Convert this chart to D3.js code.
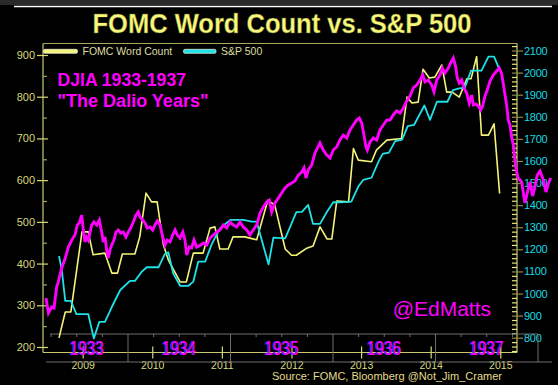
<!DOCTYPE html>
<html><head><meta charset="utf-8">
<script src="https://cdn.jsdelivr.net/npm/d3@7"></script>
<style>html,body{margin:0;padding:0;background:#000;} svg{display:block}</style>
</head><body>
<svg id="c" width="558" height="385"></svg>
<script>
// ---------- DATA ----------
const fomcDates = [2008.66,2008.75,2008.83,2008.99,2009.08,2009.15,2009.32,2009.42,2009.50,2009.57,2009.75,2009.82,2009.91,2009.99,2010.07,2010.16,2010.23,2010.40,2010.49,2010.59,2010.73,2010.83,2010.90,2010.97,2011.09,2011.16,2011.33,2011.50,2011.66,2011.76,2011.91,2012.00,2012.07,2012.22,2012.31,2012.41,2012.51,2012.58,2012.65,2012.82,2012.89,2012.96,2013.15,2013.22,2013.37,2013.58,2013.66,2013.73,2013.82,2013.89,2013.98,2014.06,2014.16,2014.23,2014.31,2014.41,2014.52,2014.58,2014.66,2014.73,2014.83,2014.91,2014.99];
const fomcValues = [222,284,284,476,476,421,425,377,377,423,423,464,569,548,548,445,409,356,356,425,425,485,488,435,435,464,464,457,552,540,435,420,420,437,442,488,459,459,550,548,676,648,644,672,696,700,799,785,787,866,845,847,876,811,811,799,843,843,896,708,708,735,568];

const spxDates = [2008.66,2008.70,2008.75,2008.83,2008.91,2009.08,2009.16,2009.24,2009.32,2009.42,2009.54,2009.68,2009.75,2009.85,2009.92,2010.09,2010.18,2010.23,2010.30,2010.40,2010.52,2010.59,2010.66,2010.76,2010.85,2010.97,2011.12,2011.31,2011.43,2011.50,2011.67,2011.74,2011.91,2012.07,2012.15,2012.24,2012.31,2012.41,2012.51,2012.60,2012.70,2012.86,2012.96,2013.03,2013.15,2013.25,2013.31,2013.40,2013.49,2013.59,2013.67,2013.76,2013.91,2013.99,2014.09,2014.24,2014.32,2014.41,2014.49,2014.58,2014.73,2014.83,2014.91,2014.98];
const spxValues = [1170,1106,967,967,907,907,797,872,872,940,1016,1057,1057,1099,1119,1119,1178,1187,1092,1035,1035,1054,1144,1144,1220,1295,1333,1333,1325,1325,1132,1253,1250,1368,1370,1401,1315,1315,1370,1413,1413,1416,1484,1514,1524,1597,1632,1638,1690,1697,1758,1763,1851,1786,1868,1868,1921,1929,1932,2009,2009,2072,2072,2020];

const djiaDates = [1933.200,1933.224,1933.256,1933.278,1933.304,1933.320,1933.353,1933.385,1933.418,1933.451,1933.483,1933.505,1933.525,1933.548,1933.564,1933.580,1933.597,1933.613,1933.629,1933.646,1933.668,1933.695,1933.720,1933.743,1933.759,1933.776,1933.792,1933.808,1933.824,1933.841,1933.863,1933.883,1933.905,1933.929,1933.954,1933.980,
1934.003,1934.026,1934.052,1934.078,1934.100,1934.117,1934.143,1934.166,1934.188,1934.215,1934.241,1934.263,1934.286,1934.312,1934.339,1934.361,1934.383,1934.410,1934.436,1934.459,1934.481,1934.507,1934.534,1934.556,1934.573,1934.598,1934.621,1934.644,1934.670,1934.696,1934.735,1934.768,1934.800,1934.832,1934.865,1934.898,1934.930,1934.963,1934.995,
1935.027,1935.060,1935.093,1935.125,1935.158,1935.190,1935.222,1935.256,1935.288,1935.320,1935.353,1935.378,1935.402,1935.434,1935.466,1935.499,1935.532,1935.564,1935.597,1935.629,1935.661,1935.695,1935.717,1935.737,1935.759,1935.792,1935.824,1935.873,1935.905,1935.939,1935.971,
1936.003,1936.036,1936.068,1936.100,1936.134,1936.166,1936.198,1936.231,1936.257,1936.280,1936.302,1936.322,1936.335,1936.361,1936.393,1936.426,1936.458,1936.491,1936.524,1936.556,1936.588,1936.621,1936.654,1936.686,1936.719,1936.751,1936.783,1936.817,1936.849,1936.875,1936.898,1936.930,1936.963,1936.985,
1937.012,1937.044,1937.066,1937.093,1937.125,1937.148,1937.174,1937.197,1937.213,1937.232,1937.256,1937.278,1937.304,1937.330,1937.353,1937.369,1937.395,1937.418,1937.441,1937.460,1937.483,1937.505,1937.532,1937.564,1937.597,1937.622,1937.646,1937.668,1937.695,1937.710,1937.727,1937.743,1937.759,1937.775,1937.792,1937.807,1937.841,1937.857,1937.873,1937.895,1937.922,1937.948,1937.971,1937.993,
1938.020,1938.052,1938.078,1938.100,1938.124];
const djiaValues = [62.6,54.4,57.7,57.1,68.6,71.4,79.0,83.9,90.5,94.3,97.1,102.6,103.7,108.0,99.8,93.3,96.0,94.3,98.2,102.6,104.2,102.6,105.3,98.7,93.3,96.0,88.9,84.5,88.9,91.6,94.3,98.7,99.8,98.2,98.7,96.0,
98.7,100.9,104.2,108.0,109.7,106.9,105.3,103.7,100.9,101.5,99.8,102.6,104.8,102.6,96.0,91.6,94.3,93.3,97.1,99.8,97.1,95.4,98.7,94.3,86.1,90.5,90.0,94.3,90.5,91.1,92.7,91.6,95.4,97.1,98.7,99.8,102.6,100.9,104.2,
102.6,101.5,104.2,101.5,99.8,97.1,99.8,102.6,109.1,112.4,115.2,116.2,109.7,114.6,117.3,120.1,122.8,124.5,125.6,126.7,129.9,131.6,133.8,128.3,132.7,135.4,142.0,147.5,143.6,140.9,139.2,
143.6,145.3,149.1,151.8,150.2,154.6,157.3,160.0,161.1,158.4,151.8,145.3,143.6,148.0,150.2,149.1,154.6,157.3,160.0,160.0,162.8,165.0,163.9,166.6,170.4,173.2,177.6,179.2,181.9,184.7,180.9,181.9,179.2,175.4,
181.9,184.7,188.5,185.8,188.5,191.3,194.0,189.1,183.0,180.3,181.9,177.6,174.8,169.3,173.7,168.3,168.8,167.7,165.5,167.7,173.2,176.5,181.4,184.7,186.9,188.5,185.2,177.6,167.7,160.0,157.3,150.7,146.4,138.1,131.6,128.3,126.1,120.1,114.6,120.1,126.1,118.4,123.9,129.9,
132.1,127.2,120.6,125.0,128.3];

const leftTicks = [200,300,400,500,600,700,800,900];
const leftMinor = [250,350,450,550,650,750,850];
const rightTicks = [800,900,1000,1100,1200,1300,1400,1500,1600,1700,1800,1900,2000,2100];
const rightMinor = d3.range(740, 2140, 20).filter(v => v % 100 !== 0);
const yearTicks = [2009,2010,2011,2012,2013,2014,2015];
const djiaYears = [1933,1934,1935,1936,1937];
const djiaBounds = [1934,1935,1936,1937,1938];

// ---------- LAYOUT ----------
const W = 558, H = 385;
const L = 43, R = 517, T = 43.5, B = 352.5;
const FONT = "Liberation Sans, Arial, Helvetica, sans-serif";

const x = d3.scaleLinear().domain([2008.43, 2015.24]).range([L, R]);
const yL = d3.scaleLinear().domain([200, 900]).range([347, 55]);
const yR = d3.scaleLinear().domain([800, 2100]).range([337.7, 50.5]);
const djX = d3.scaleLinear().domain([1933, 1938]).range([25.5, 538]);
const djY = d3.scaleLinear().domain([50, 200]).range([321, 47.04]);

const svg = d3.select("#c");
svg.append("rect").attr("width", W).attr("height", H).attr("fill", "#000");
svg.append("rect").attr("width", W).attr("height", 5).attr("fill", "#2a2a2a");
svg.append("line").attr("x1", 14).attr("x2", 552).attr("y1", 6.5).attr("y2", 6.5)
  .attr("stroke", "#fff").attr("stroke-width", 1.5);

// title
svg.append("text").attr("x", 282).attr("y", 33).attr("text-anchor", "middle")
  .attr("font-family", FONT).attr("font-weight", "bold").attr("font-size", 27)
  .attr("fill", "#f8f87c").attr("stroke", "#6a6a20").attr("stroke-width", 0.4)
  .attr("textLength", 379).attr("lengthAdjust", "spacingAndGlyphs")
  .text("FOMC Word Count vs. S&P 500");

// frame
const frameCol = "#c8c86e";
svg.append("line").attr("x1", L).attr("x2", R).attr("y1", T).attr("y2", T).attr("stroke", "#a8a85c").attr("stroke-width", 1);
svg.append("line").attr("x1", L).attr("x2", R).attr("y1", B).attr("y2", B).attr("stroke", frameCol).attr("stroke-width", 1.2);
svg.append("line").attr("x1", L).attr("x2", L).attr("y1", T).attr("y2", B).attr("stroke", frameCol).attr("stroke-width", 1.2);
svg.append("line").attr("x1", R).attr("x2", R).attr("y1", T).attr("y2", B).attr("stroke", frameCol).attr("stroke-width", 1.2);

function styleAxis(g, tickCol, textCol, fs) {
  g.select(".domain").remove();
  g.selectAll(".tick line").attr("stroke", tickCol).attr("stroke-width", 1.2);
  g.selectAll(".tick text").attr("fill", textCol).attr("font-family", FONT).attr("font-size", fs);
}

// left axis
const gL = svg.append("g").attr("transform", `translate(${L},0)`)
  .call(d3.axisLeft(yL).tickValues(leftTicks).tickFormat(d3.format("d")).tickSize(6).tickPadding(2));
styleAxis(gL, "#d8d878", "#d6d67a", 11);
const gL2 = svg.append("g").attr("transform", `translate(${L},0)`)
  .call(d3.axisRight(yL).tickValues(leftTicks).tickSize(5).tickFormat(""));
styleAxis(gL2, "#d8d878", "#d6d67a", 11);
const gL3 = svg.append("g").attr("transform", `translate(${L},0)`)
  .call(d3.axisRight(yL).tickValues(leftMinor).tickSize(4).tickFormat(""));
styleAxis(gL3, "#a8a860", "#d6d67a", 11);

// right axis
const gR = svg.append("g").attr("transform", `translate(${R},0)`)
  .call(d3.axisRight(yR).tickValues(rightTicks).tickFormat(d3.format("d")).tickSize(6).tickPadding(1));
styleAxis(gR, "#8c8c4c", "#18dce4", 11);
gR.selectAll(".tick text").attr("letter-spacing", -0.3);
const gR2 = svg.append("g").attr("transform", `translate(${R},0)`)
  .call(d3.axisLeft(yR).tickValues(rightTicks).tickSize(5).tickFormat(""));
styleAxis(gR2, "#8c8c4c", "#18dce4", 11);
const gR3 = svg.append("g").attr("transform", `translate(${R},0)`)
  .call(d3.axisLeft(yR).tickValues(rightMinor.filter(v => yR(v) > T && yR(v) < B)).tickSize(5).tickFormat(""));
styleAxis(gR3, "#e8e874", "#18dce4", 11);

// bottom axis
const gB = svg.append("g").attr("transform", `translate(0,${B})`)
  .call(d3.axisBottom(x).tickValues(yearTicks).tickFormat(d3.format("d")).tickSize(6).tickPadding(3));
styleAxis(gB, "#d8d878", "#dcdc80", 10.5);
const gB2 = svg.append("g").attr("transform", `translate(0,${B})`)
  .call(d3.axisTop(x).tickValues(yearTicks).tickFormat("").tickSize(6));
styleAxis(gB2, "#d8d878", "#dcdc80", 10.5);

// grey overlay (DJIA) time axis
const grey = "#6e6e6e";
const djStart = djiaDates[0];
svg.append("line").attr("x1", djX(djStart) + 4).attr("x2", djX(1938)).attr("y1", 334).attr("y2", 334).attr("stroke", grey);
svg.append("line").attr("x1", djX(djStart)).attr("x2", 552).attr("y1", 362).attr("y2", 362).attr("stroke", grey);
djiaBounds.forEach(yr => {
  svg.append("line").attr("x1", djX(yr)).attr("x2", djX(yr)).attr("y1", 334).attr("y2", 362).attr("stroke", grey);
});
d3.range(1933.25, 1938, 0.25).filter(q => q % 1 !== 0 && q > djStart).forEach(q => {
  svg.append("line").attr("x1", djX(q)).attr("x2", djX(q)).attr("y1", 334).attr("y2", 337).attr("stroke", grey);
});

// lines
const fomc = fomcDates.map((d, i) => [d, fomcValues[i]]);
const spx = spxDates.map((d, i) => [d, spxValues[i]]);
const djia = djiaDates.map((d, i) => [d, djiaValues[i]]);

svg.append("path").datum(fomc)
  .attr("d", d3.line().x(d => x(d[0])).y(d => yL(d[1])))
  .attr("fill", "none").attr("stroke", "#f4f47a").attr("stroke-width", 1.6).attr("stroke-linejoin", "round");
svg.append("path").datum(spx)
  .attr("d", d3.line().x(d => x(d[0])).y(d => yR(d[1])))
  .attr("fill", "none").attr("stroke", "#1ee2ea").attr("stroke-width", 1.8).attr("stroke-linejoin", "round");
svg.append("path").datum(djia)
  .attr("d", d3.line().x(d => djX(d[0])).y(d => djY(d[1])))
  .attr("fill", "none").attr("stroke", "#ff00ff").attr("stroke-width", 2.9).attr("stroke-linejoin", "miter");

// legend
const legend = [
  {label: "FOMC Word Count", color: "#f4f47a", x: 43.5, w: 34},
  {label: "S&P 500", color: "#1ee2ea", x: 183.5, w: 32.5}
];
legend.forEach(l => {
  svg.append("rect").attr("x", l.x).attr("y", 49.3).attr("width", l.w).attr("height", 4)
    .attr("rx", 1.5).attr("fill", l.color).attr("stroke", "#f4f4e0").attr("stroke-width", 0.7);
  svg.append("text").attr("x", l.x + l.w + 5).attr("y", 55.4)
    .attr("font-family", FONT).attr("font-size", 10.5).attr("fill", "#dedea0").text(l.label);
});

// magenta annotations
svg.append("text").attr("x", 57.5).attr("y", 85.6).attr("font-family", FONT).attr("font-weight", "bold")
  .attr("font-size", 18).attr("fill", "#ff00ff").attr("textLength", 128.5).attr("lengthAdjust", "spacingAndGlyphs")
  .text("DJIA 1933-1937");
svg.append("text").attr("x", 57.5).attr("y", 106.6).attr("font-family", FONT).attr("font-weight", "bold")
  .attr("font-size", 18).attr("fill", "#ff00ff").attr("textLength", 151).attr("lengthAdjust", "spacingAndGlyphs")
  .text("\"The Dalio Years\"");
svg.append("text").attr("x", 491).attr("y", 315.5).attr("text-anchor", "end").attr("font-family", FONT)
  .attr("font-size", 21).attr("fill", "#ff00ff").text("@EdMatts");

djiaYears.forEach(yr => {
  const x0 = djX(Math.max(yr, djStart)), x1 = djX(yr + 1);
  const cx = (x0 + x1) / 2;
  [["#3a3aff", -1.2], ["#ff00ff", 0]].forEach(([col, off]) => {
    svg.append("text").attr("x", cx + off).attr("y", 355).attr("text-anchor", "middle")
      .attr("font-family", FONT).attr("font-size", 21).attr("fill", col)
      .attr("textLength", 34).attr("lengthAdjust", "spacingAndGlyphs").text(String(yr));
  });
});

// source
svg.append("text").attr("x", 502).attr("y", 380).attr("text-anchor", "end").attr("font-family", FONT)
  .attr("font-size", 11).attr("fill", "#e4dc8a").text("Source: FOMC, Bloomberg @Not_Jim_Cramer");
</script>
</body></html>
